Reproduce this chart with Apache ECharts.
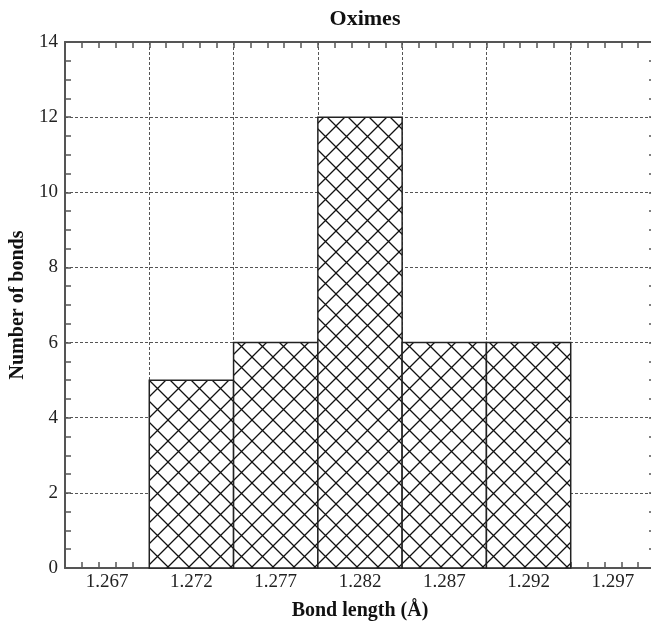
<!DOCTYPE html>
<html>
<head>
<meta charset="utf-8">
<script src="https://cdn.jsdelivr.net/npm/echarts@6/dist/echarts.min.js"></script>
<style>
  html, body { margin: 0; padding: 0; background: #fff; }
  #main { width: 651px; height: 622px; }
</style>
</head>
<body>
<div id="main"></div>
<script>
// histogram bins (left edge, bin width) and counts
var binStarts = [1.2695, 1.2745, 1.2795, 1.2845, 1.2895];
var binWidth = 0.005;
var counts = [5, 6, 12, 6, 6];
// tick labels shown at the bin centres
var xLabels = ['1.267', '1.272', '1.277', '1.282', '1.287', '1.292', '1.297'];

var serif = '"Liberation Serif", "Times New Roman", serif';
var axisGray = '#555';

// crosshatch tile
var tile = document.createElement('canvas');
tile.width = 21; tile.height = 21;
var tc = tile.getContext('2d');
tc.fillStyle = '#fff';
tc.fillRect(0, 0, 21, 21);
tc.strokeStyle = '#111';
tc.lineWidth = 1.3;
tc.beginPath();
tc.moveTo(-2, -2); tc.lineTo(23, 23);
tc.moveTo(23, -2); tc.lineTo(-2, 23);
tc.stroke();

var barData = binStarts.map(function (s, i) { return [s, s + binWidth, counts[i]]; });

var chart = echarts.init(document.getElementById('main'), null, {renderer: 'canvas'});

var tickCommon = {
    inside: true, length: 6, lineStyle: {color: axisGray, width: 1.5}
};

chart.setOption({
    animation: false,
    title: {
        text: 'Oximes',
        left: 360, top: 3, textAlign: 'center',
        textStyle: {fontFamily: serif, fontWeight: 'bold', fontSize: 22, color: '#111'}
    },
    grid: {left: 65, top: 42, width: 590, height: 526, containLabel: false, outerBoundsMode: 'none'},
    xAxis: [{
        type: 'value', min: 1.2645, max: 1.2995, interval: 0.005,
        axisLine: {show: true, lineStyle: {color: axisGray, width: 2}},
        axisTick: tickCommon,
        minorTick: {show: true, splitNumber: 5, length: 6, lineStyle: {color: axisGray, width: 1.5}},
        axisLabel: {show: false},
        splitLine: {show: true, lineStyle: {color: '#555', type: [3, 2], width: 1}},
        name: 'Bond length (Å)', nameLocation: 'middle', nameGap: 33,
        nameTextStyle: {fontFamily: serif, fontWeight: 'bold', fontSize: 20, color: '#111'}
    }, {
        type: 'category', data: xLabels, position: 'bottom', boundaryGap: true,
        axisLine: {show: false}, axisTick: {show: false},
        axisLabel: {fontFamily: serif, fontSize: 19, color: '#222', margin: 5},
        splitLine: {show: false}
    }, {
        type: 'value', min: 1.2645, max: 1.2995, interval: 0.005, position: 'top',
        axisLine: {show: true, lineStyle: {color: axisGray, width: 2}},
        axisTick: tickCommon,
        minorTick: {show: true, splitNumber: 5, length: 6, lineStyle: {color: axisGray, width: 1.5}},
        axisLabel: {show: false},
        splitLine: {show: false}
    }],
    yAxis: [{
        type: 'value', min: 0, max: 14, interval: 2,
        axisLine: {show: true, lineStyle: {color: axisGray, width: 2}},
        axisTick: tickCommon,
        minorTick: {show: true, splitNumber: 4, length: 6, lineStyle: {color: axisGray, width: 1.5}},
        axisLabel: {fontFamily: serif, fontSize: 19, color: '#222', margin: 7},
        splitLine: {show: true, lineStyle: {color: '#555', type: [3, 2], width: 1}},
        name: 'Number of bonds', nameLocation: 'middle', nameGap: 37, nameRotate: 90,
        nameTextStyle: {fontFamily: serif, fontWeight: 'bold', fontSize: 20, color: '#111'}
    }, {
        type: 'value', min: 0, max: 14, interval: 2, position: 'right',
        axisLine: {show: true, lineStyle: {color: axisGray, width: 2}},
        axisTick: tickCommon,
        minorTick: {show: true, splitNumber: 4, length: 6, lineStyle: {color: axisGray, width: 1.5}},
        axisLabel: {show: false},
        splitLine: {show: false}
    }],
    series: [{
        type: 'custom',
        xAxisIndex: 0, yAxisIndex: 0,
        data: barData,
        renderItem: function (params, api) {
            var p0 = api.coord([api.value(0), api.value(2)]);
            var p1 = api.coord([api.value(1), 0]);
            return {
                type: 'rect',
                shape: {x: p0[0], y: p0[1], width: p1[0] - p0[0], height: p1[1] - p0[1]},
                style: {
                    fill: {image: tile, repeat: 'repeat'},
                    stroke: '#222', lineWidth: 1.5
                }
            };
        },
        z: 3
    }]
});
</script>
</body>
</html>
